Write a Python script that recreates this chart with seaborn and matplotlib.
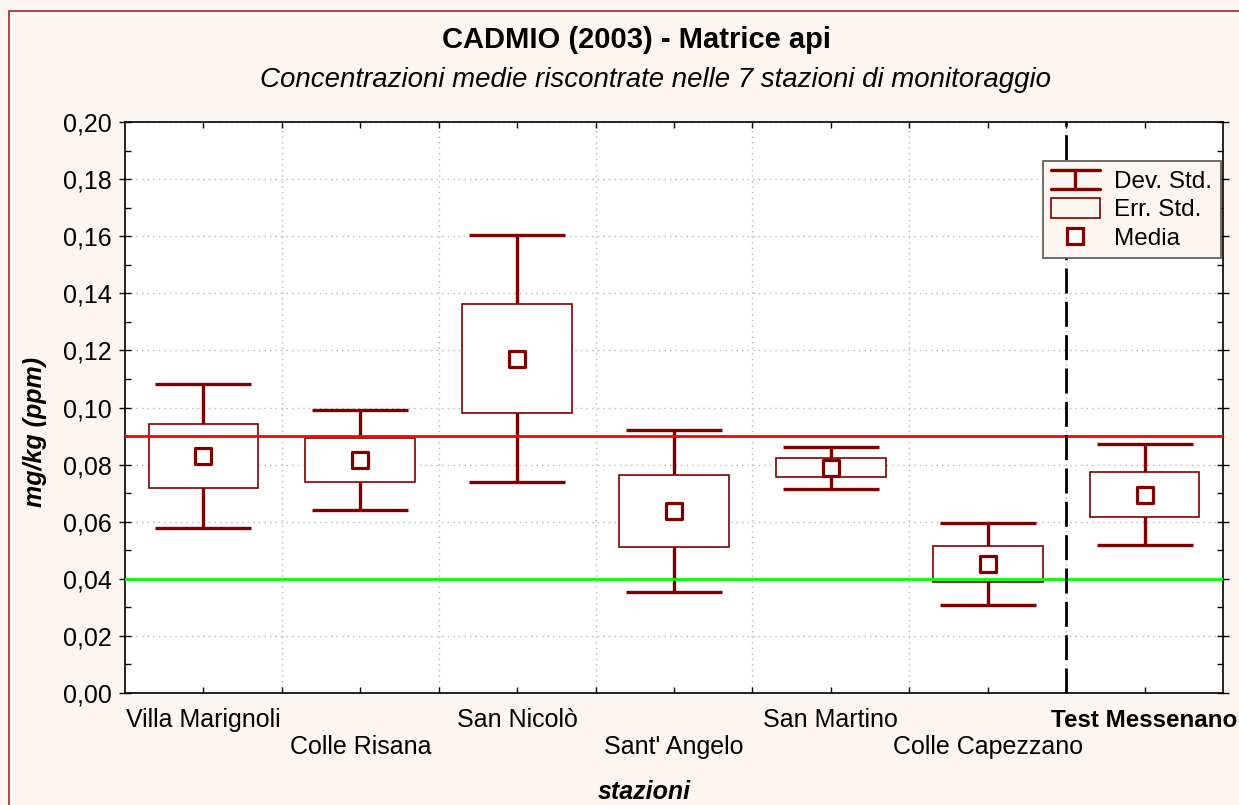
import numpy as np
import pandas as pd
import seaborn as sns
import matplotlib.pyplot as plt
from matplotlib.lines import Line2D
from matplotlib.patches import Rectangle
from matplotlib.legend_handler import HandlerBase
from matplotlib.ticker import FuncFormatter, MultipleLocator

# data (mg/kg)
stations = ["Villa Marignoli", "Colle Risana", "San Nicolò", "Sant' Angelo",
            "San Martino", "Colle Capezzano", "Test Messenano"]
media = [0.0831, 0.0815, 0.1171, 0.0637, 0.0789, 0.0451, 0.0695]
err_std = [0.0112, 0.0077, 0.0192, 0.0125, 0.0034, 0.0063, 0.0079]
dev_std = [0.0253, 0.0175, 0.0432, 0.0283, 0.0074, 0.0144, 0.0176]
limite_alto = 0.09
limite_basso = 0.04

df = pd.DataFrame({"stazione": stations, "media": media,
                   "se": err_std, "sd": dev_std})
df["pos"] = np.arange(len(df))

dark_red = "#800000"
bg = "#fdf6f0"

sns.set_theme(style="ticks")
plt.rcParams["font.family"] = ["Liberation Sans", "DejaVu Sans"]
plt.rcParams["text.color"] = "black"
plt.rcParams["xtick.color"] = "black"
plt.rcParams["ytick.color"] = "black"
plt.rcParams["axes.labelcolor"] = "black"

fig = plt.figure(figsize=(12.39, 8.05), dpi=100, facecolor=bg)
ax = fig.add_axes([125 / 1239, 112 / 805, 1098 / 1239, 571 / 805])
ax.set_facecolor("white")

# dev. std whiskers
for _, r in df.iterrows():
    ax.vlines(r["pos"], r["media"] - r["sd"], r["media"] + r["sd"],
              color=dark_red, lw=2.4, zorder=2)
    ax.hlines([r["media"] - r["sd"], r["media"] + r["sd"]],
              r["pos"] - 0.306, r["pos"] + 0.306, color=dark_red, lw=2.4, zorder=2)

# err. std boxes
ax.bar(df["pos"], 2 * df["se"], bottom=df["media"] - df["se"], width=0.70,
       facecolor="white", edgecolor=dark_red, linewidth=1.2, zorder=3)

# reference limits
ax.axhline(limite_alto, color="#ff0000", lw=2.0, zorder=3.5)
ax.axhline(limite_basso, color="#00ff00", lw=2.0, zorder=3.5)
ax.axvline(5.5, color="black", lw=2.0, dashes=(9, 3), zorder=3.5)

# means
sns.scatterplot(data=df, x="pos", y="media", marker="s", s=135,
                facecolor="white", edgecolor=dark_red, linewidth=2.3,
                zorder=4, ax=ax, legend=False)

ax.set_xlim(-0.5, len(stations) - 0.5)
ax.set_ylim(0, 0.20)
ax.yaxis.set_major_locator(MultipleLocator(0.02))
ax.yaxis.set_minor_locator(MultipleLocator(0.01))
ax.yaxis.set_major_formatter(FuncFormatter(lambda v, p: f"{v:.2f}".replace(".", ",")))
ax.set_xticks(df["pos"])
ax.set_xticks(np.arange(0.5, len(stations) - 1, 1.0), minor=True)
ax.set_xticklabels([])

# staggered station names
for i, name in enumerate(stations):
    last = i == len(stations) - 1
    ax.text(i, -0.0595 if i % 2 == 0 else -0.1068, name,
            transform=ax.get_xaxis_transform(), ha="center", va="baseline",
            fontsize=17.4 if last else 18, fontweight="bold" if last else "normal")

ax.grid(True, which="major", axis="y", color="#b5b5b5", lw=1, ls=(0, (1, 3)))
ax.grid(True, which="minor", axis="x", color="#b5b5b5", lw=1, ls=(0, (1, 3)))
for s in ax.spines.values():
    s.set_color("black")
    s.set_linewidth(1.2)

ax.tick_params(axis="y", which="major", direction="inout", length=9, width=1,
               labelsize=18, pad=5, right=True, color="black")
ax.tick_params(axis="y", which="minor", direction="in", length=4, width=1,
               right=True, color="black")
ax.tick_params(axis="x", which="both", direction="in", length=4, width=1,
               top=True, color="black")
ax.set_xlabel("")
ax.set_ylabel("")

fig.text(0.514, 0.950, "CADMIO (2003) - Matrice api", ha="center", va="center",
         fontsize=21, fontweight="bold")
fig.text(0.529, 0.901, "Concentrazioni medie riscontrate nelle 7 stazioni di monitoraggio",
         ha="center", va="center", fontsize=19.9, fontstyle="italic")
fig.text(0.028, 0.463, "mg/kg (ppm)", rotation=90, ha="center", va="center",
         fontsize=18, fontweight="bold", fontstyle="italic")
fig.text(0.520, 0.016, "stazioni", ha="center", va="center",
         fontsize=18, fontweight="bold", fontstyle="italic")

# figure frame
fig.patches.append(Rectangle((9 / 1239, -0.1), 1.2, (805 - 11) / 805 + 0.1,
                             transform=fig.transFigure, fill=False,
                             edgecolor="#9b2b2b", lw=1.2))


class HandlerDevStd(HandlerBase):
    def create_artists(self, legend, orig_handle, xdescent, ydescent,
                       width, height, fontsize, trans):
        x0, x1 = -xdescent, -xdescent + width
        y0, y1 = -ydescent, -ydescent + height
        xm = (x0 + x1) / 2
        kw = dict(color=dark_red, lw=2.4, transform=trans)
        return [Line2D([x0, x1], [y1, y1], **kw),
                Line2D([x0, x1], [y0, y0], **kw),
                Line2D([xm, xm], [y0, y1], **kw)]


h_sd = Line2D([], [], color=dark_red)
h_se = Rectangle((0, 0), 1, 1, facecolor=bg, edgecolor=dark_red, lw=1.2)
h_mean = Line2D([], [], marker="s", ls="none", markersize=11.5,
                markerfacecolor="white", markeredgecolor=dark_red, markeredgewidth=2.3)
leg = ax.legend([h_sd, h_se, h_mean], ["Dev. Std.", "Err. Std.", "Media"],
                handler_map={h_sd: HandlerDevStd()},
                loc="upper right", bbox_to_anchor=(0.998, 0.931),
                fontsize=17.5, frameon=True, fancybox=False, framealpha=1,
                facecolor=bg, edgecolor="#555555", handlelength=2.0,
                handleheight=0.85, labelspacing=0.22, borderpad=0.35,
                handletextpad=0.6, borderaxespad=0)
leg.get_frame().set_linewidth(1.2)
leg.set_zorder(10)

fig.savefig("out.png", dpi=100, facecolor=bg)
